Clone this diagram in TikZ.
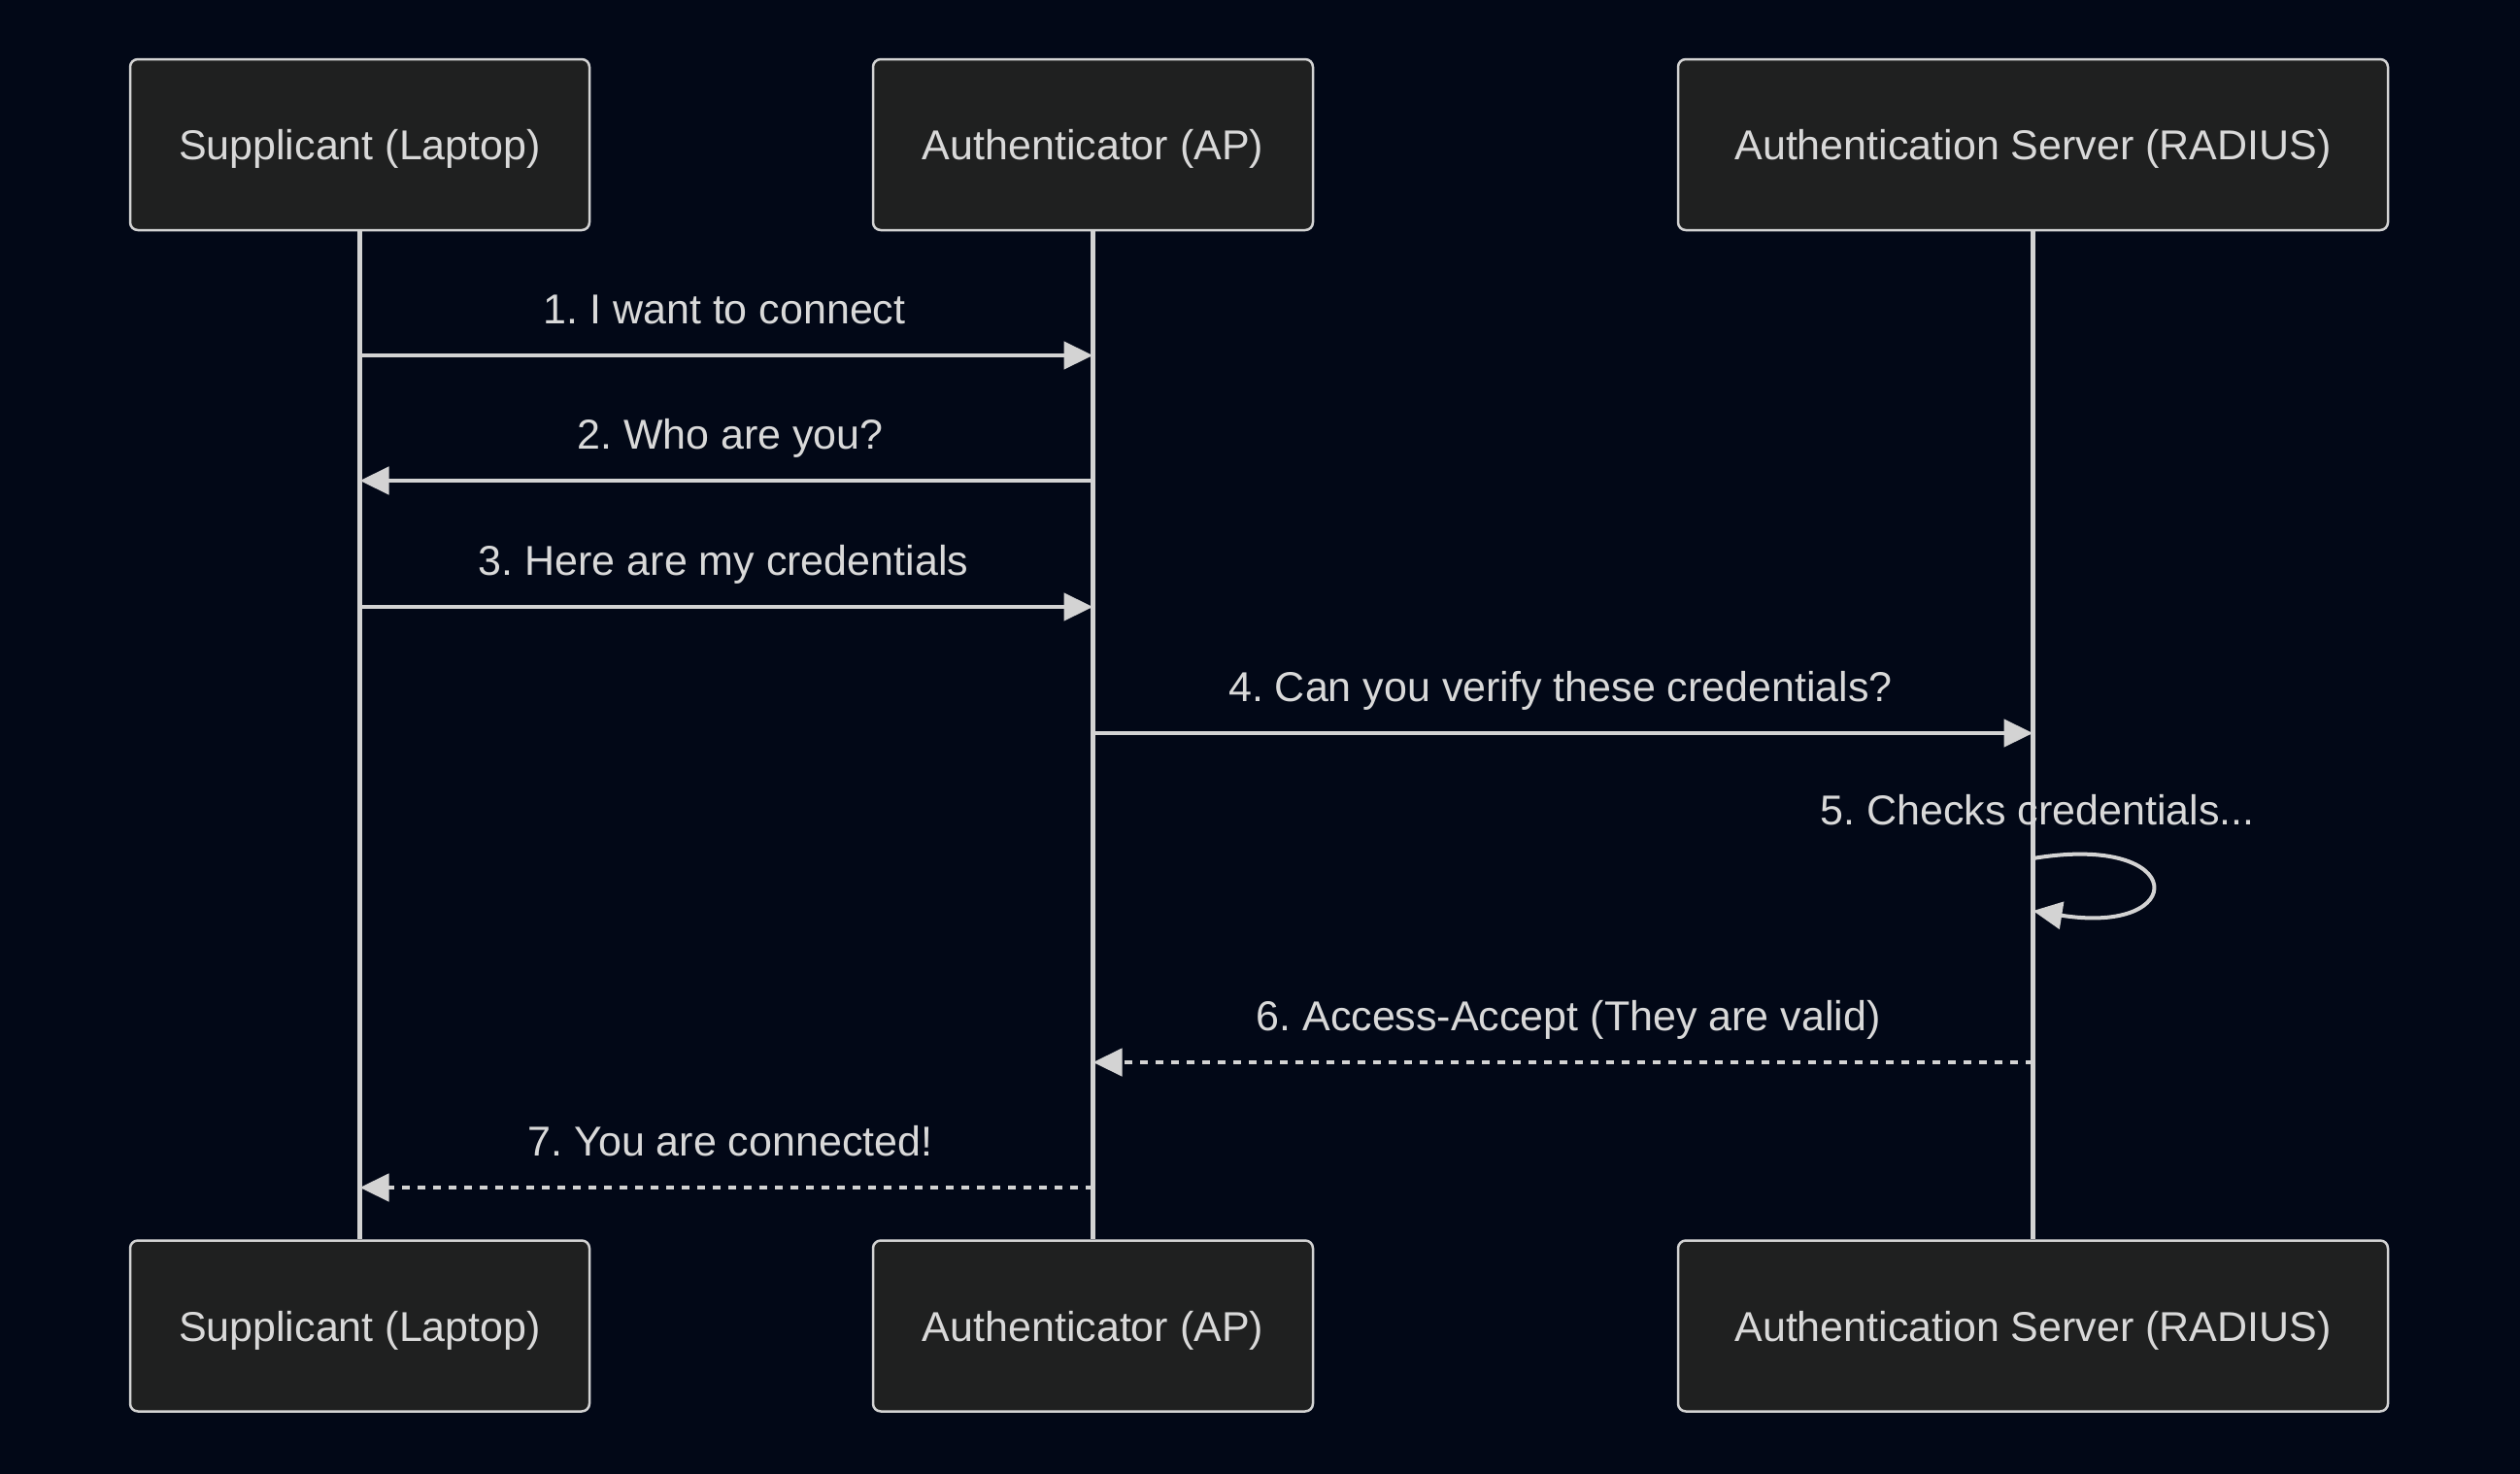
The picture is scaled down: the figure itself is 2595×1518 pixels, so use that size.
\documentclass[tikz,border=0pt]{standalone}
\usepackage{fontspec}
\setmainfont{Liberation Sans}
\usetikzlibrary{arrows.meta}
\definecolor{bg}{HTML}{020817}
\definecolor{boxfill}{HTML}{1F2020}
\definecolor{fg}{HTML}{D3D3D3}
\definecolor{txt}{HTML}{D9D9D9}
\frenchspacing
\begin{document}
\begin{tikzpicture}[x=1pt,y=-1pt,
  actor/.style={draw=fg, fill=boxfill, line width=2.5pt, rounded corners=8pt,
    minimum width=#1, minimum height=176pt, inner sep=0pt, text=txt,
    font=\fontsize{43}{52}\selectfont, text height=31pt, text depth=0pt},
  life/.style={draw=fg, line width=4.5pt},
  msg/.style={draw=fg, line width=4.5pt, -{Triangle[length=30pt,width=28pt]}},
  reply/.style={msg, dash pattern=on 8pt off 8pt},
  lbl/.style={text=txt, font=\fontsize{43}{52}\selectfont\frenchspacing, anchor=base, inner sep=0pt}]
\fill[bg] (0,0) rectangle (2595,1518);
\useasboundingbox (0,0) rectangle (2595,1518);

% actors
\node[actor=473pt] (sA) at (370.5,149) {Supplicant (Laptop)};
\node[actor=453pt] (aA) at (1125.5,149) {Authenticator (AP)};
\node[actor=731pt] (rA) at (2093.5,149) {Authentication Server (RADIUS)};
\node[actor=473pt] (sB) at (370.5,1365.5) {Supplicant (Laptop)};
\node[actor=453pt] (aB) at (1125.5,1365.5) {Authenticator (AP)};
\node[actor=731pt] (rB) at (2093.5,1365.5) {Authentication Server (RADIUS)};

% lifelines
\draw[life] (sA.south) -- (sB.north);
\draw[life] (aA.south) -- (aB.north);
\draw[life] (rA.south) -- (rB.north);

% message anchor points
\coordinate (s1) at (370.5,366);  \coordinate (a1) at (1125.5,366);
\coordinate (s2) at (370.5,495);  \coordinate (a2) at (1125.5,495);
\coordinate (s3) at (370.5,625);  \coordinate (a3) at (1125.5,625);
\coordinate (a4) at (1125.5,755); \coordinate (r4) at (2093.5,755);
\coordinate (r5a) at (2093.5,884); \coordinate (r5b) at (2093.5,938);
\coordinate (a6) at (1125.5,1094); \coordinate (r6) at (2093.5,1094);
\coordinate (s7) at (370.5,1223); \coordinate (a7) at (1125.5,1223);

% messages
\draw[msg] (s1) -- (a1);
\node[lbl] (l1) at (746,333) {1. I want to connect};
\draw[msg] (a2) -- (s2);
\node[lbl] (l2) at (752,462) {2. Who are you?};
\draw[msg] (s3) -- (a3);
\node[lbl] (l3) at (745,592) {3. Here are my credentials};
\draw[msg] (a4) -- (r4);
\node[lbl] (l4) at (1607,722) {4. Can you verify these credentials?};
\node[lbl] (l5) at (2098,849) {5. Checks credentials...};
\draw[msg, line width=4pt] (r5a) .. controls (2255,857) and (2255,964) .. (r5b);
\draw[reply] (r6) -- (a6);
\node[lbl] (l6) at (1615,1061) {6. Access-Accept (They are valid)};
\draw[reply] (a7) -- (s7);
\node[lbl] (l7) at (752,1190) {7. You are connected!};
\end{tikzpicture}
\end{document}
